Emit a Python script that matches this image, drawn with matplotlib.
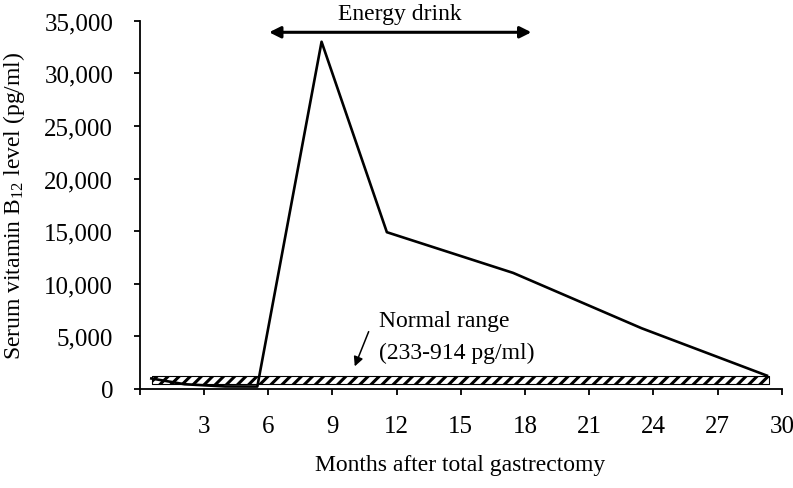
'''
Serum vitamin B12 level after total gastrectomy, with energy drink period.
Output: out.png
'''

import matplotlib
matplotlib.use('Agg')
import matplotlib.pyplot as plt
from matplotlib.ticker import FuncFormatter

plt.rcParams['font.family'] = 'Liberation Serif'
plt.rcParams['mathtext.fontset'] = 'custom'
plt.rcParams['mathtext.rm'] = 'Liberation Serif'
plt.rcParams['mathtext.it'] = 'Liberation Serif:italic'
plt.rcParams['hatch.linewidth'] = 2.2

# data
months = [0.55, 2.1, 4.0, 5.5, 8.5, 11.55, 17.45, 23.45, 29.3]
b12 = [1000, 450, 240, 230, 33000, 14900, 11030, 5770, 1270]

normal_x = [0.6, 29.4]
normal_low = 470
normal_high = 1190

drink_start = 6.05
drink_end = 18.3
drink_y = 33900

xticks = [0, 3, 6, 9, 12, 15, 18, 21, 24, 27, 30]
xticklabels = [''] + [str(t) for t in xticks[1:]]
yticks = [0, 5000, 10000, 15000, 20000, 25000, 30000, 35000]

fig = plt.figure(figsize=(7.93, 4.89), dpi=100)
ax = fig.add_axes([0.176, 0.2025, 0.81, 0.7531])

# normal range band
ax.fill_between(normal_x, normal_low, normal_high, facecolor='white',
                edgecolor='black', hatch='///', linewidth=0.8, zorder=2)

ax.plot(months, b12, color='black', linewidth=1.9, zorder=3)

# energy drink period
ax.annotate('', xy=(drink_start, drink_y), xytext=(drink_end, drink_y),
            arrowprops=dict(arrowstyle='<|-|>', color='black', lw=2.2,
                            mutation_scale=17, shrinkA=0, shrinkB=0),
            annotation_clip=False)
ax.text((drink_start + drink_end) / 2, 35650, 'Energy drink', fontsize=17,
        ha='center', va='center', clip_on=False)

ax.text(11.2, 6500, 'Normal range', fontsize=17, ha='left', va='center')
ax.text(11.2, 3500, '(233-914 pg/ml)', fontsize=17, ha='left', va='center')
ax.annotate('', xy=(10.05, 2150), xytext=(10.7, 5450),
            arrowprops=dict(arrowstyle='-|>', color='black', lw=1.1,
                            mutation_scale=14, shrinkA=0, shrinkB=0))

ax.set_xlim(0, 30)
ax.set_ylim(0, 35000)
ax.set_xticks(xticks)
ax.set_xticklabels(xticklabels)
ax.set_yticks(yticks)
ax.yaxis.set_major_formatter(FuncFormatter(lambda v, p: '{:,.0f}'.format(v)))
ax.tick_params(direction='out', length=4, width=1.3, labelsize=18, pad=15)

for s in ['top', 'right']:
    ax.spines[s].set_visible(False)
for s in ['left', 'bottom']:
    ax.spines[s].set_linewidth(1.3)

ax.set_xlabel('Months after total gastrectomy', fontsize=17)
ax.set_ylabel(r'Serum vitamin B$_{12}$ level (pg/ml)', fontsize=17)
ax.xaxis.set_label_coords(0.4985, -0.206)
ax.xaxis.label.set_verticalalignment('center')
ax.yaxis.set_label_coords(-0.195, 0.5)
ax.yaxis.label.set_verticalalignment('center')

plt.savefig('out.png', dpi=100)
